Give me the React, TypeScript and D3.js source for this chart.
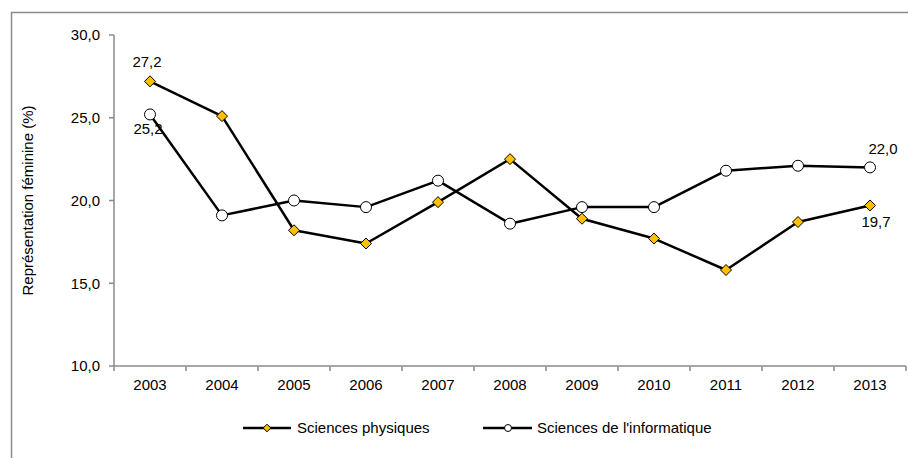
import React from "react";
import * as d3 from "d3";

const years = ["2003", "2004", "2005", "2006", "2007", "2008", "2009", "2010", "2011", "2012", "2013"];
const physique = [27.2, 25.1, 18.2, 17.4, 19.9, 22.5, 18.9, 17.7, 15.8, 18.7, 19.7];
const informatique = [25.2, 19.1, 20.0, 19.6, 21.2, 18.6, 19.6, 19.6, 21.8, 22.1, 22.0];
const yTicks = [10, 15, 20, 25, 30];
const seriesNames = ["Sciences physiques", "Sciences de l'informatique"];

const W = 908;
const H = 458;
const FONT = "'Liberation Sans', Arial, sans-serif";
const AXIS = "#8a8a8a";
const GOLD = "#FFC000";

const fmt = (v: number) => v.toFixed(1).replace(".", ",");

export default function App() {
  const x = d3.scaleBand<string>().domain(years).range([114, 906]).padding(0);
  const y = d3.scaleLinear().domain([10, 30]).range([366, 35]);
  const cx = (i: number) => (x(years[i]) as number) + x.bandwidth() / 2;
  const line = d3
    .line<number>()
    .x((_, i) => cx(i))
    .y((d) => y(d));

  const diamond = (px: number, py: number, r: number) =>
    `M${px},${py - r}L${px + r},${py}L${px},${py + r}L${px - r},${py}Z`;

  const boundaries = d3.range(years.length + 1).map((i) => 114 + i * x.bandwidth());

  const labels = [
    { v: physique[0], i: 0, dx: -3, dy: -14 },
    { v: informatique[0], i: 0, dx: -2, dy: 19.5 },
    { v: informatique[10], i: 10, dx: 13, dy: -13 },
    { v: physique[10], i: 10, dx: 6, dy: 22 },
  ];

  return (
    <svg
      width={W}
      height={H}
      style={{ position: "absolute", left: 0, top: 0, background: "#fff" }}
      fontFamily={FONT}
    >
      <rect x={0} y={0} width={W} height={H} fill="#fff" />
      <rect x={11.5} y={12.5} width={1000} height={1000} fill="none" stroke={AXIS} strokeWidth={1.5} />

      {/* y axis */}
      <line x1={114} x2={114} y1={y(30)} y2={y(10)} stroke={AXIS} strokeWidth={1.5} />
      {yTicks.map((t) => (
        <g key={t}>
          <line x1={109} x2={114} y1={y(t)} y2={y(t)} stroke={AXIS} strokeWidth={1.5} />
          <text x={100} y={y(t)} dy="0.35em" textAnchor="end" fontSize={15} fill="#000">
            {fmt(t)}
          </text>
        </g>
      ))}
      <text
        transform={`translate(33,${(y(30) + y(10)) / 2}) rotate(-90)`}
        textAnchor="middle"
        fontSize={15}
        fill="#000"
      >
        Représentation féminine (%)
      </text>

      {/* x axis */}
      <line x1={114} x2={906} y1={y(10)} y2={y(10)} stroke={AXIS} strokeWidth={1.5} />
      {boundaries.map((b, i) => (
        <line key={i} x1={b} x2={b} y1={y(10)} y2={y(10) + 5} stroke={AXIS} strokeWidth={1.5} />
      ))}
      {years.map((yr, i) => (
        <text key={yr} x={cx(i)} y={390} textAnchor="middle" fontSize={15} fill="#000">
          {yr}
        </text>
      ))}

      {/* lines */}
      <path d={line(informatique) || ""} fill="none" stroke="#000" strokeWidth={2.5} strokeLinejoin="round" />
      <path d={line(physique) || ""} fill="none" stroke="#000" strokeWidth={2.5} strokeLinejoin="round" />

      {informatique.map((v, i) => (
        <circle key={"c" + i} cx={cx(i)} cy={y(v)} r={5.5} fill="#fff" stroke="#000" strokeWidth={1} />
      ))}
      {physique.map((v, i) => (
        <path key={"d" + i} d={diamond(cx(i), y(v), 5.5)} fill={GOLD} stroke="#000" strokeWidth={1} />
      ))}

      {labels.map((l, k) => (
        <text
          key={k}
          x={cx(l.i) + l.dx}
          y={y(l.v) + l.dy}
          textAnchor="middle"
          fontSize={15}
          fill="#000"
        >
          {fmt(l.v)}
        </text>
      ))}

      {/* legend */}
      <g>
        <line x1={243} x2={291} y1={428} y2={428} stroke="#000" strokeWidth={2.5} />
        <path d={diamond(267, 428, 3.8)} fill={GOLD} stroke="#000" strokeWidth={1} />
        <text x={297} y={428} dy="0.35em" fontSize={15} fill="#000">
          {seriesNames[0]}
        </text>
        <line x1={483} x2={532} y1={428} y2={428} stroke="#000" strokeWidth={2.5} />
        <circle cx={508} cy={428} r={3.5} fill="#fff" stroke="#000" strokeWidth={1} />
        <text x={537} y={428} dy="0.35em" fontSize={15} fill="#000">
          {seriesNames[1]}
        </text>
      </g>
    </svg>
  );
}
